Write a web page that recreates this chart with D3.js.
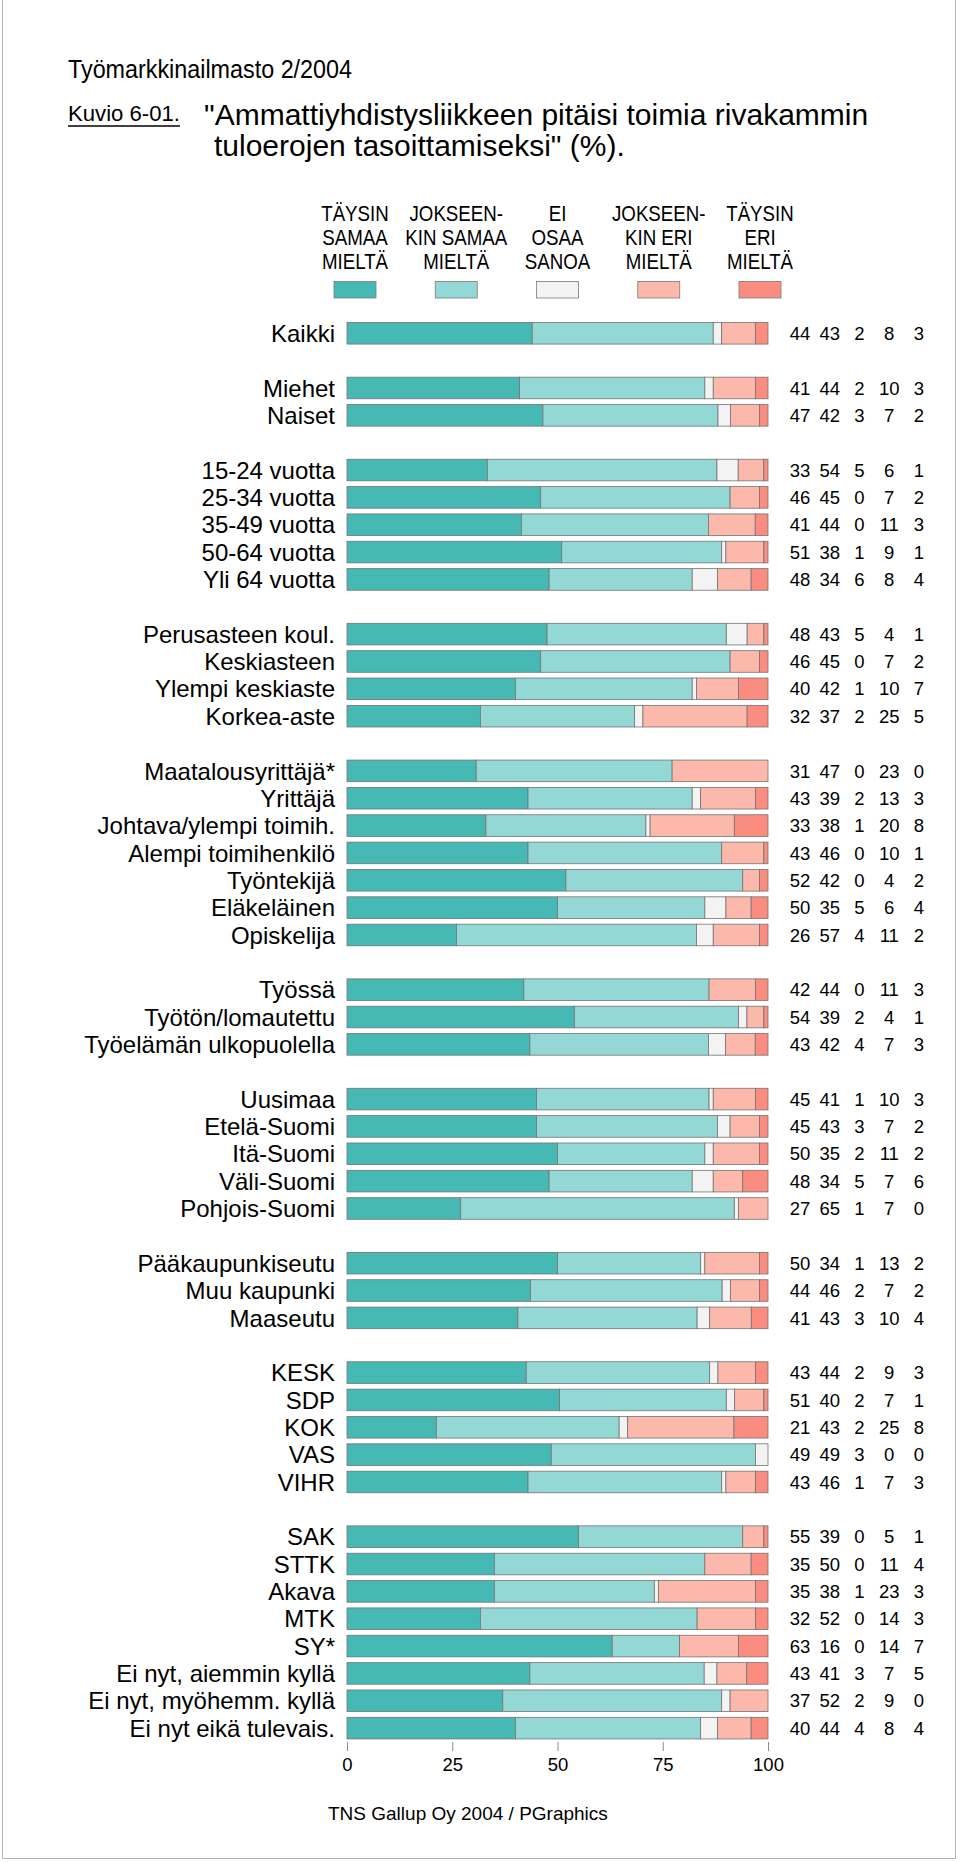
<!DOCTYPE html>
<html><head><meta charset="utf-8">
<script src="https://cdn.jsdelivr.net/npm/d3@7"></script>
<style>
html,body{margin:0;padding:0;background:#fff;}
svg{display:block;font-family:"Liberation Sans",Arial,Helvetica,sans-serif;}
</style></head>
<body>
<svg id="chart" width="960" height="1862"></svg>
<script>
// ---- DATA ----
const categories = [
  "Kaikki",
  "Miehet","Naiset",
  "15-24 vuotta","25-34 vuotta","35-49 vuotta","50-64 vuotta","Yli 64 vuotta",
  "Perusasteen koul.","Keskiasteen","Ylempi keskiaste","Korkea-aste",
  "Maatalousyrittäjä*","Yrittäjä","Johtava/ylempi toimih.","Alempi toimihenkilö","Työntekijä","Eläkeläinen","Opiskelija",
  "Työssä","Työtön/lomautettu","Työelämän ulkopuolella",
  "Uusimaa","Etelä-Suomi","Itä-Suomi","Väli-Suomi","Pohjois-Suomi",
  "Pääkaupunkiseutu","Muu kaupunki","Maaseutu",
  "KESK","SDP","KOK","VAS","VIHR",
  "SAK","STTK","Akava","MTK","SY*","Ei nyt, aiemmin kyllä","Ei nyt, myöhemm. kyllä","Ei nyt eikä tulevais."
];
const groupSizes = [1,2,5,4,7,3,5,3,5,8];

const seriesNames = [
  ["TÄYSIN","SAMAA","MIELTÄ"],
  ["JOKSEEN-","KIN SAMAA","MIELTÄ"],
  ["EI","OSAA","SANOA"],
  ["JOKSEEN-","KIN ERI","MIELTÄ"],
  ["TÄYSIN","ERI","MIELTÄ"]
];
const taysinSamaa     = [44,41,47,33,46,41,51,48,48,46,40,32,31,43,33,43,52,50,26,42,54,43,45,45,50,48,27,50,44,41,43,51,21,49,43,55,35,35,32,63,43,37,40];
const jokseenkinSamaa = [43,44,42,54,45,44,38,34,43,45,42,37,47,39,38,46,42,35,57,44,39,42,41,43,35,34,65,34,46,43,44,40,43,49,46,39,50,38,52,16,41,52,44];
const eiOsaa          = [ 2, 2, 3, 5, 0, 0, 1, 6, 5, 0, 1, 2, 0, 2, 1, 0, 0, 5, 4, 0, 2, 4, 1, 3, 2, 5, 1, 1, 2, 3, 2, 2, 2, 3, 1, 0, 0, 1, 0, 0, 3, 2, 4];
const jokseenkinEri   = [ 8,10, 7, 6, 7,11, 9, 8, 4, 7,10,25,23,13,20,10, 4, 6,11,11, 4, 7,10, 7,11, 7, 7,13, 7,10, 9, 7,25, 0, 7, 5,11,23,14,14, 7, 9, 8];
const taysinEri       = [ 3, 3, 2, 1, 2, 3, 1, 4, 1, 2, 7, 5, 0, 3, 8, 1, 2, 4, 2, 3, 1, 3, 3, 2, 2, 6, 0, 2, 2, 4, 3, 1, 8, 0, 3, 1, 4, 3, 3, 7, 5, 0, 4];
const xTicks = [0,25,50,75,100];
const colors = ["#47b9b4","#93d8d4","#f3f3f3","#fcb9ab","#fa8d7f"];

// ---- BUILD ----
const seriesArrays = [taysinSamaa,jokseenkinSamaa,eiOsaa,jokseenkinEri,taysinEri];
const keys = ["s0","s1","s2","s3","s4"];
const rows = categories.map((c,i)=>{
  const vals = seriesArrays.map(a=>a[i]);
  const sum = d3.sum(vals);
  const r = {cat:c, raw:vals};
  keys.forEach((k,j)=> r[k] = vals[j]/sum*100);
  return r;
});

const slots = [];
let idx = 0;
groupSizes.forEach((g,gi)=>{
  for(let k=0;k<g;k++){ slots.push(categories[idx++]); }
  if(gi<groupSizes.length-1) slots.push("__gap"+gi);
});

const svg = d3.select("#chart");

svg.append("path").attr("d","M2.5,0 V1858.5 H955.5 V0")
  .attr("fill","none").attr("stroke","#b4b4b4").attr("stroke-width",1);

const x = d3.scaleLinear().domain([0,100]).range([347,768]);
const y = d3.scaleBand().domain(slots).range([319.6,1741.8]).paddingInner(0.21).paddingOuter(0.105);

// titles
svg.append("text").attr("x",68).attr("y",78).attr("font-size",25.5)
  .attr("textLength",284).attr("lengthAdjust","spacingAndGlyphs")
  .text("Työmarkkinailmasto 2/2004");
svg.append("text").attr("x",68).attr("y",121).attr("font-size",22)
  .attr("textLength",112).attr("lengthAdjust","spacingAndGlyphs")
  .text("Kuvio 6-01.");
svg.append("line").attr("x1",68).attr("x2",180).attr("y1",126).attr("y2",126)
  .attr("stroke","#000").attr("stroke-width",1.3);
svg.append("text").attr("x",204).attr("y",125).attr("font-size",30)
  .text("\"Ammattiyhdistysliikkeen pitäisi toimia rivakammin");
svg.append("text").attr("x",214).attr("y",156).attr("font-size",30)
  .text("tuloerojen tasoittamiseksi\" (%).");

// legend
const legendX = d3.scalePoint().domain(keys).range([355,760]);
keys.forEach((k,i)=>{
  const cx = legendX(k);
  seriesNames[i].forEach((ln,li)=>{
    svg.append("text")
      .attr("transform",`translate(${cx},${221+li*24}) scale(0.85,1)`)
      .attr("text-anchor","middle").attr("font-size",22).text(ln);
  });
  svg.append("rect").attr("x",cx-21).attr("y",281.5).attr("width",42).attr("height",16.5)
    .attr("fill",colors[i]).attr("stroke","#7a7a7a").attr("stroke-width",0.8);
});

// bars
const stack = d3.stack().keys(keys)(rows);
const g = svg.append("g");
stack.forEach((layer,li)=>{
  g.selectAll(null).data(layer).enter().append("rect")
    .attr("x",d=>x(d[0]))
    .attr("width",d=>Math.max(0,x(d[1])-x(d[0])))
    .attr("y",d=>y(d.data.cat))
    .attr("height",y.bandwidth())
    .attr("fill",colors[li])
    .attr("stroke","#747474").attr("stroke-width",0.8);
});

// row labels
svg.append("g").selectAll("text").data(rows).enter().append("text")
  .attr("x",335).attr("y",d=>y(d.cat)+y.bandwidth()/2)
  .attr("dy","0.36em").attr("text-anchor","end").attr("font-size",24)
  .text(d=>d.cat);

// value columns
const colX = d3.scalePoint().domain(keys).range([800,919]);
const vg = svg.append("g");
rows.forEach(r=>{
  keys.forEach((k,j)=>{
    vg.append("text").attr("x",colX(k)).attr("y",y(r.cat)+y.bandwidth()/2)
      .attr("dy","0.36em").attr("text-anchor","middle").attr("font-size",18.5)
      .text(r.raw[j]);
  });
});

// axis
const axis = d3.axisBottom(x).tickValues(xTicks).tickSize(9).tickPadding(7);
const ag = svg.append("g").attr("transform","translate(0,1742)").call(axis);
ag.select(".domain").remove();
ag.selectAll(".tick line").attr("stroke","#8c8c8c");
ag.selectAll(".tick text").attr("font-size",18.5).attr("font-family","Liberation Sans, Arial, sans-serif").attr("fill","#000");

// footer
svg.append("text").attr("x",328).attr("y",1820).attr("font-size",19)
  .text("TNS Gallup Oy 2004 / PGraphics");
</script>
</body></html>
